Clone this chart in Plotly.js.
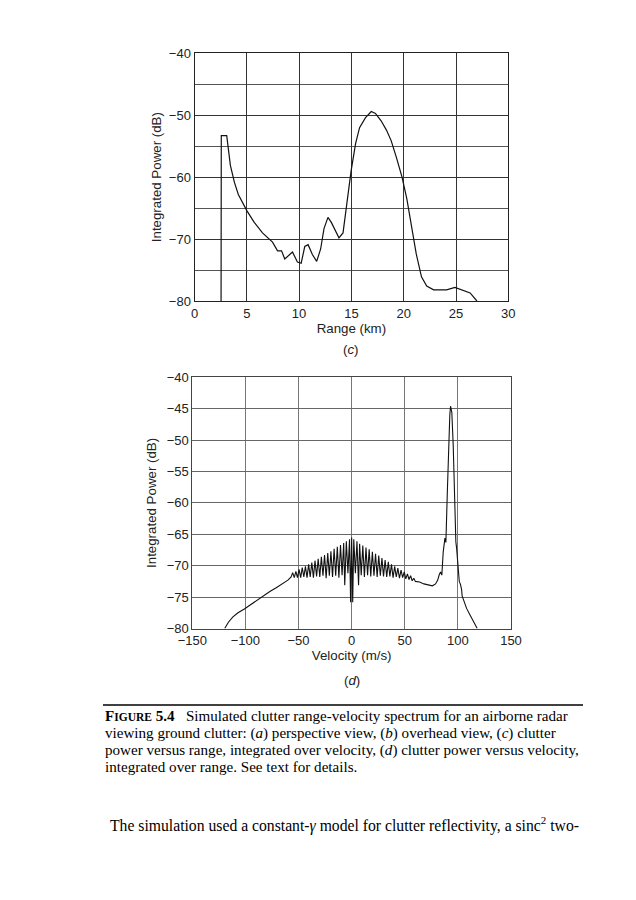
<!DOCTYPE html>
<html>
<head>
<meta charset="utf-8">
<script src="https://cdn.plot.ly/plotly-3.0.1.min.js"></script>
<style>
  html, body { margin: 0; padding: 0; background: #ffffff; }
  #chart { width: 636px; height: 900px; }
</style>
</head>
<body>
<div id="chart"></div>
<script>
// ---- (c) clutter power versus range ----
const rangeKm = [2.54, 2.56, 3.08, 3.43, 3.81, 4.19, 5.0, 5.71, 6.5, 7.46, 7.94, 8.32, 8.63, 9.37, 9.84, 10.2,
  10.54, 10.86, 11.27, 11.68, 12.06, 12.38, 12.76, 13.08, 13.81, 14.2, 14.6, 14.98, 15.4, 15.78, 16.35, 16.9,
  17.3, 17.84, 18.35, 18.8, 19.3, 19.84, 20.3, 20.8, 21.2, 21.7, 22.2, 22.86, 24.1, 24.9, 25.6, 26.35, 27.0];
const powerRange = [-80.0, -53.3, -53.3, -58.1, -60.8, -62.8, -65.4, -67.3, -69.0, -70.5, -71.9, -71.9, -73.2, -72.1, -73.7, -73.9,
  -71.2, -70.9, -72.5, -73.6, -71.6, -68.3, -66.5, -67.3, -69.8, -69.0, -63.8, -58.9, -54.6, -52.0, -50.4, -49.4,
  -49.7, -50.9, -52.4, -54.1, -56.8, -60.0, -63.5, -68.1, -72.4, -76.1, -77.6, -78.2, -78.2, -77.8, -78.2, -78.7, -80.0];

// ---- (d) clutter power versus velocity ----
const velocity = [-119.5, -116, -112, -107, -101, -95, -89, -83, -77, -71, -65, -60, -57,
  -55.5, -54, -52.5, -51, -49.5, -48, -46.5, -45, -43.5, -42, -40.5, -39, -37.5, -36, -34.5, -33,
  -31.5, -30, -28.5, -27, -25.5, -24, -22.5, -21, -19.5, -18, -16.5, -15, -13.5, -12, -10.5, -9,
  -7.5, -6.5, -5, -3.5, -2, -1, 0, 1, 2, 3.5, 5, 6.5, 7.5, 9, 10.5, 12, 13.5, 15, 16.5, 18,
  19.5, 21, 22.5, 24, 25.5, 27, 28.5, 30, 31.5, 33, 34.5, 36, 37.5, 39, 40.5, 42, 43.5, 45,
  46.5, 48, 49.5, 51, 52.5, 54, 55.5, 57, 58.5, 60,
  64, 68, 72, 76, 79, 81, 82.5, 83.7, 84.9, 86.2, 87.8, 88.7, 90.0, 91.2, 92.4, 93.1, 94.3, 95.6,
  96.8, 98.1, 98.8, 99.6, 100.4, 101.3, 102.5, 103.5, 104, 105, 106.5, 108.2, 111.3, 114.4, 118.2];
const powerVelocity = [-80.0, -79.0, -78.2, -77.5, -76.9, -76.2, -75.4, -74.8, -74.1, -73.5, -72.9, -72.3, -71.8,
  -71.1, -71.9, -70.9, -71.9, -70.6, -71.9, -70.3, -71.8, -70.1, -71.9, -69.8, -71.8, -69.5, -71.9, -69.2, -71.7,
  -68.9, -71.8, -68.6, -71.6, -68.3, -72.0, -68.0, -71.6, -67.7, -71.8, -67.3, -71.6, -67.0, -71.9, -66.7, -71.5,
  -66.4, -73.1, -66.1, -71.2, -65.8, -75.8, -65.5, -75.8, -65.8, -71.2, -66.1, -73.1, -66.5, -71.5, -66.8, -71.8, -67.1, -71.5, -67.4, -71.7,
  -67.8, -71.6, -68.1, -71.8, -68.4, -71.6, -68.8, -71.7, -69.1, -71.8, -69.4, -71.7, -69.8, -71.9, -70.1, -71.8, -70.4, -72.0,
  -70.7, -71.9, -71.0, -72.1, -71.3, -72.2, -71.6, -72.4, -72.0, -72.5,
  -72.6, -72.9, -73.1, -73.2, -72.9, -72.3, -71.4, -71.0, -71.5, -67.8, -65.6, -66.3, -58.7, -50.8, -46.0, -44.6, -45.6, -50.8,
  -58.7, -66.2, -67.2, -68.6, -70.5, -72.5, -73.0, -73.8, -74.8, -75.3, -76.0, -76.8, -77.8, -78.9, -80.0];

const W = 636, H = 900;
const px = x => x / W;
const py = y => 1 - y / H;

const tickFont = {family: 'Liberation Sans, Arial, sans-serif', size: 13, color: '#222'};
const titleFont = {family: 'Liberation Sans, Arial, sans-serif', size: 13.3, color: '#222'};
const serif = 'Liberation Serif, Times New Roman, serif';

const data = [
  {x: rangeKm, y: powerRange, xaxis: 'x', yaxis: 'y', type: 'scatter', mode: 'lines',
   line: {color: '#111', width: 1.2}, hoverinfo: 'x+y'},
  {x: velocity, y: powerVelocity, xaxis: 'x2', yaxis: 'y2', type: 'scatter', mode: 'lines',
   line: {color: '#111', width: 1.1}, hoverinfo: 'x+y'}
];

const layout = {
  width: W, height: H, autosize: false,
  margin: {l: 0, r: 0, t: 0, b: 0},
  paper_bgcolor: '#ffffff', plot_bgcolor: '#ffffff',
  showlegend: false,
  xaxis: {
    domain: [px(194.5), px(508.3)], anchor: 'y',
    range: [0, 30], dtick: 5, tick0: 0, ticks: '',
    showgrid: true, gridcolor: '#333', gridwidth: 1,
    showline: true, mirror: true, linecolor: '#222', linewidth: 1,
    zeroline: false, tickfont: tickFont,
    title: {text: 'Range (km)', font: titleFont, standoff: 3}
  },
  yaxis: {
    domain: [py(301), py(53.3)], anchor: 'x',
    range: [-80, -40], dtick: 10, tick0: -80, ticks: '',
    showgrid: true, gridcolor: '#333', gridwidth: 1,
    minor: {dtick: 5, showgrid: true, gridcolor: '#555', gridwidth: 1},
    showline: true, mirror: true, linecolor: '#222', linewidth: 1,
    zeroline: false, tickfont: tickFont,
    title: {text: 'Integrated Power (dB)', font: titleFont, standoff: 4}
  },
  xaxis2: {
    domain: [px(192.3), px(511)], anchor: 'y2',
    range: [-150, 150], dtick: 50, tick0: -150, ticks: '',
    showgrid: true, gridcolor: '#777', gridwidth: 1,
    showline: true, mirror: true, linecolor: '#444', linewidth: 1,
    zeroline: false, tickfont: tickFont,
    title: {text: 'Velocity (m/s)', font: titleFont, standoff: 3}
  },
  yaxis2: {
    domain: [py(628.5), py(377.3)], anchor: 'x2',
    range: [-80, -40], dtick: 5, tick0: -80, ticks: '',
    showgrid: true, gridcolor: '#666', gridwidth: 1,
    showline: true, mirror: true, linecolor: '#444', linewidth: 1,
    zeroline: false, tickfont: tickFont,
    title: {text: 'Integrated Power (dB)', font: titleFont, standoff: 6}
  },
  shapes: [
    {type: 'line', xref: 'paper', yref: 'paper', x0: px(103), x1: px(583), y0: py(705), y1: py(705),
     line: {color: '#000', width: 1.3}}
  ],
  annotations: [
    {text: '(<i>c</i>)', xref: 'paper', yref: 'paper', x: px(351), y: py(350), xanchor: 'center', yanchor: 'middle',
     showarrow: false, font: titleFont},
    {text: '(<i>d</i>)', xref: 'paper', yref: 'paper', x: px(352), y: py(680), xanchor: 'center', yanchor: 'middle',
     showarrow: false, font: titleFont},
    {text: "<b>F<span style='font-size:11.5px'>IGURE</span> 5.4</b>\u00a0\u00a0\u00a0Simulated clutter range-velocity spectrum for an airborne radar",
     xref: 'paper', yref: 'paper', x: px(103), y: py(716), xanchor: 'left', yanchor: 'middle', align: 'left',
     showarrow: false, font: {family: serif, size: 15.1, color: '#000'}},
    {text: 'viewing ground clutter: (<i>a</i>) perspective view, (<i>b</i>) overhead view, (<i>c</i>) clutter',
     xref: 'paper', yref: 'paper', x: px(103), y: py(733), xanchor: 'left', yanchor: 'middle', align: 'left',
     showarrow: false, font: {family: serif, size: 15.1, color: '#000'}},
    {text: 'power versus range, integrated over velocity, (<i>d</i>) clutter power versus velocity,',
     xref: 'paper', yref: 'paper', x: px(103), y: py(750), xanchor: 'left', yanchor: 'middle', align: 'left',
     showarrow: false, font: {family: serif, size: 15.1, color: '#000'}},
    {text: 'integrated over range. See text for details.',
     xref: 'paper', yref: 'paper', x: px(103), y: py(767), xanchor: 'left', yanchor: 'middle', align: 'left',
     showarrow: false, font: {family: serif, size: 15.1, color: '#000'}},
    {text: 'The simulation used a constant-<i>γ</i> model for clutter reflectivity, a sinc<sup>2</sup> two-',
     xref: 'paper', yref: 'paper', x: px(108), y: py(824), xanchor: 'left', yanchor: 'middle', align: 'left',
     showarrow: false, font: {family: serif, size: 15.7, color: '#000'}}
  ]
};

Plotly.newPlot('chart', data, layout, {staticPlot: true, displayModeBar: false});
</script>
</body>
</html>
